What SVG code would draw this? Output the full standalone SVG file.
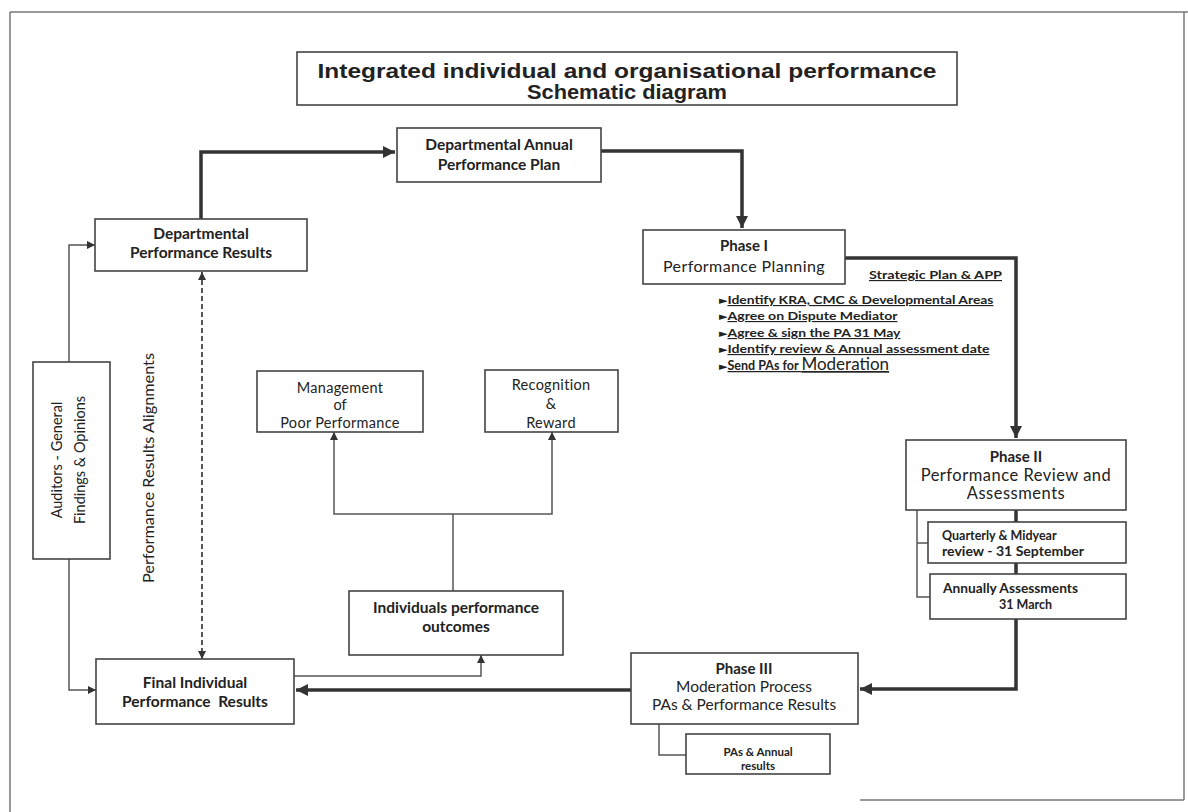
<svg xmlns="http://www.w3.org/2000/svg" width="1188" height="812" viewBox="0 0 1188 812">
<style>
.box{fill:#fff;stroke:#444;stroke-width:1.6}
.t{font-family:Lato,"Liberation Sans",sans-serif;fill:#222;text-anchor:middle}
.b{font-weight:bold}
.thick{fill:none;stroke:#333;stroke-width:3.5}
.thin{fill:none;stroke:#555;stroke-width:1.5}
.dash{fill:none;stroke:#222;stroke-width:1.5;stroke-dasharray:5 3}
.ul{text-decoration:underline}
.bul{font-family:"DejaVu Sans",sans-serif;font-size:11px}
.frame{fill:none;stroke:#777;stroke-width:1.5}
</style>
<defs>
<marker id="ah" viewBox="0 0 10 10" refX="10" refY="5" markerWidth="12" markerHeight="12" markerUnits="userSpaceOnUse" orient="auto"><path d="M0,0 L10,5 L0,10 z" fill="#333"/></marker>
<marker id="as" viewBox="0 0 10 10" refX="10" refY="5" markerWidth="8" markerHeight="8" markerUnits="userSpaceOnUse" orient="auto-start-reverse"><path d="M0,0 L10,5 L0,10 z" fill="#333"/></marker>
</defs>
<rect width="1188" height="812" fill="#fff"/>
<g id="frame">
<line class="frame" x1="10" y1="12" x2="1188" y2="12" stroke="#666"/>
<line class="frame" x1="10" y1="12" x2="10" y2="812"/>
<line class="frame" x1="1184" y1="12" x2="1184" y2="800" stroke="#bbb"/>
<line class="frame" x1="860" y1="800" x2="1184" y2="800" stroke="#999"/>
</g>
<g id="title">
<rect class="box" x="297" y="52" width="660" height="53"/>
<text x="627" y="78" font-family="'Liberation Sans',Arial,sans-serif" font-weight="bold" font-size="20.5" fill="#222" text-anchor="middle" textLength="619" lengthAdjust="spacingAndGlyphs">Integrated individual and organisational performance</text>
<text x="627" y="99" font-family="'Liberation Sans',Arial,sans-serif" font-weight="bold" font-size="21" fill="#222" text-anchor="middle" textLength="200" lengthAdjust="spacingAndGlyphs">Schematic diagram</text>
</g>
<g id="connectors">
<path class="thick" d="M201,219 V152 H395" marker-end="url(#ah)"/>
<path class="thick" d="M601,151 H742 V228" marker-end="url(#ah)"/>
<path class="thick" d="M845,258 H1016 V438" marker-end="url(#ah)"/>
<path class="thick" d="M1016,510 V522 M1016,563 V574"/>
<path class="thick" d="M1016,619 V689 H860" marker-end="url(#ah)"/>
<path class="thick" d="M631,690 H296" marker-end="url(#ah)"/>
<path class="thin" d="M69,362 V245 H95" marker-end="url(#as)"/>
<path class="thin" d="M69,559 V690 H96" marker-end="url(#as)"/>
<path class="dash" d="M202,272 V659" marker-start="url(#as)" marker-end="url(#as)"/>
<path class="thin" d="M294,676 H481 V655" marker-end="url(#as)"/>
<path class="thin" d="M453,591 V514"/>
<path class="thin" d="M453,514 H334 V432" marker-end="url(#as)"/>
<path class="thin" d="M453,514 H552 V432" marker-end="url(#as)"/>
<path class="thin" d="M917,510 V597 H930 M917,543 H928"/>
<path class="thin" d="M659,724 V755 H686"/>
</g>
<g id="dept-annual">
<rect class="box" x="397" y="128" width="204" height="54"/>
<text class="t b" x="499" y="150" font-size="15.5">Departmental Annual</text>
<text class="t b" x="499" y="170" font-size="15.5">Performance Plan</text>
</g>
<g id="dept-results">
<rect class="box" x="95" y="219" width="212" height="52"/>
<text class="t b" x="201" y="239" font-size="15.5">Departmental</text>
<text class="t b" x="201" y="258" font-size="15.5">Performance Results</text>
</g>
<g id="phase1">
<rect class="box" x="643" y="230" width="202" height="54"/>
<text class="t b" x="744" y="251" font-size="15">Phase I</text>
<text class="t" x="744" y="272" font-size="16" letter-spacing="0.4">Performance Planning</text>
</g>
<g id="phase1-notes" font-family="Lato,'Liberation Sans',sans-serif" font-weight="bold" fill="#222">
<text x="869" y="279" font-size="11.5" class="ul" textLength="133" lengthAdjust="spacingAndGlyphs">Strategic Plan &amp; APP</text>
<text x="719" y="304" font-size="11.5"><tspan class="bul">►</tspan><tspan class="ul" textLength="266" lengthAdjust="spacingAndGlyphs">Identify KRA, CMC &amp; Developmental Areas</tspan></text>
<text x="719" y="320" font-size="11.5"><tspan class="bul">►</tspan><tspan class="ul" textLength="170" lengthAdjust="spacingAndGlyphs">Agree on Dispute Mediator</tspan></text>
<text x="719" y="337" font-size="11.5"><tspan class="bul">►</tspan><tspan class="ul" textLength="173" lengthAdjust="spacingAndGlyphs">Agree &amp; sign the PA 31 May</tspan></text>
<text x="719" y="353" font-size="11.5"><tspan class="bul">►</tspan><tspan class="ul" textLength="262" lengthAdjust="spacingAndGlyphs">Identify review &amp; Annual assessment date</tspan></text>
<text x="719" y="370" font-size="12.5"><tspan class="bul">►</tspan><tspan class="ul">Send PAs for </tspan><tspan class="ul" font-size="17" font-weight="normal">Moderation</tspan></text>
</g>
<g id="phase2">
<rect class="box" x="906" y="440" width="220" height="70"/>
<text class="t b" x="1016" y="462" font-size="15">Phase II</text>
<text class="t" x="1016" y="481" font-size="16.5" letter-spacing="0.5">Performance Review and</text>
<text class="t" x="1016" y="499" font-size="16.5" letter-spacing="0.5">Assessments</text>
</g>
<g id="quarterly">
<rect class="box" x="928" y="522" width="198" height="41"/>
<text x="942" y="540" font-family="Lato,'Liberation Sans',sans-serif" font-weight="bold" font-size="12.5" fill="#222">Quarterly &amp; Midyear</text>
<text x="942" y="556" font-family="Lato,'Liberation Sans',sans-serif" font-weight="bold" font-size="12.5" fill="#222" textLength="142" lengthAdjust="spacingAndGlyphs">review - 31 September</text>
</g>
<g id="annually">
<rect class="box" x="930" y="574" width="196" height="45"/>
<text x="943" y="593" font-family="Lato,'Liberation Sans',sans-serif" font-weight="bold" font-size="12.5" fill="#222" textLength="135" lengthAdjust="spacingAndGlyphs">Annually Assessments</text>
<text x="999" y="609" font-family="Lato,'Liberation Sans',sans-serif" font-weight="bold" font-size="12.5" fill="#222">31 March</text>
</g>
<g id="phase3">
<rect class="box" x="631" y="653" width="227" height="71"/>
<text class="t b" x="744" y="674" font-size="15">Phase III</text>
<text class="t" x="744" y="692" font-size="15.5">Moderation Process</text>
<text class="t" x="744" y="710" font-size="15.5">PAs &amp; Performance Results</text>
</g>
<g id="pas-annual">
<rect class="box" x="686" y="734" width="144" height="40"/>
<text class="t b" x="758" y="756" font-size="11.5">PAs &amp; Annual</text>
<text class="t b" x="758" y="770" font-size="11.5">results</text>
</g>
<g id="final">
<rect class="box" x="96" y="659" width="198" height="65"/>
<text class="t b" x="195" y="688" font-size="15.5">Final Individual</text>
<text class="t b" x="195" y="707" font-size="15.5" xml:space="preserve">Performance  Results</text>
</g>
<g id="outcomes">
<rect class="box" x="349" y="591" width="214" height="64"/>
<text class="t b" x="456" y="613" font-size="15.5">Individuals performance</text>
<text class="t b" x="456" y="632" font-size="15.5">outcomes</text>
</g>
<g id="management">
<rect class="box" x="257" y="371" width="166" height="61"/>
<text class="t" x="340" y="393" font-size="14.5" letter-spacing="0.3">Management</text>
<text class="t" x="340" y="410" font-size="14.5">of</text>
<text class="t" x="340" y="428" font-size="14.5" letter-spacing="0.3">Poor Performance</text>
</g>
<g id="recognition">
<rect class="box" x="485" y="370" width="133" height="62"/>
<text class="t" x="551" y="390" font-size="14.5" letter-spacing="0.3">Recognition</text>
<text class="t" x="551" y="409" font-size="14.5">&amp;</text>
<text class="t" x="551" y="428" font-size="14.5" letter-spacing="0.3">Reward</text>
</g>
<g id="auditors">
<rect class="box" x="33" y="362" width="77" height="197"/>
<text class="t" transform="translate(62,460) rotate(-90)" font-size="14.5">Auditors - General</text>
<text class="t" transform="translate(85,460) rotate(-90)" font-size="14.5">Findings &amp; Opinions</text>
</g>
<g id="alignment-label">
<text class="t" transform="translate(154,468) rotate(-90)" font-size="15.5" textLength="230" lengthAdjust="spacingAndGlyphs">Performance Results Alignments</text>
</g>
</svg>
